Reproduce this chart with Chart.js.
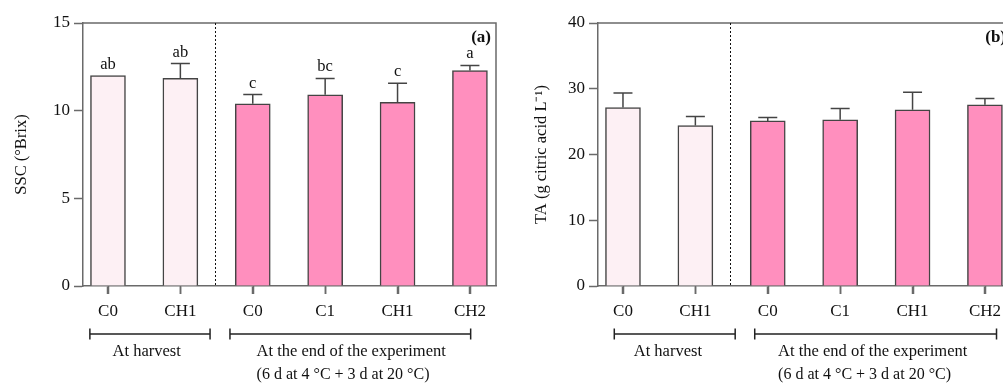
<!DOCTYPE html>
<html>
<head>
<meta charset="utf-8">
<script src="https://cdn.jsdelivr.net/npm/chart.js@4/dist/chart.umd.min.js"></script>
<style>
  html, body { margin: 0; padding: 0; background: #fff; overflow: hidden; width: 1003px; height: 383px; }
  .panel { position: absolute; top: 0; width: 500px; height: 383px; }
</style>
</head>
<body>
<div class="panel" style="left:0px"><canvas id="sscChart" width="500" height="383"></canvas></div>
<div class="panel" style="left:515px"><canvas id="taChart" width="500" height="383"></canvas></div>
<script>
// treatments, left two at harvest, others at the end of the experiment
const categories = ["C0", "CH1", "C0", "C1", "CH1", "CH2"];
const atHarvest = [true, true, false, false, false, false];

const sscMean = [12.0, 11.84, 10.39, 10.91, 10.47, 12.29];
const sscErr = [0, 0.85, 0.53, 0.93, 1.1, 0.29];
const sscLetters = ["ab", "ab", "c", "bc", "c", "a"];
const sscTicks = [0, 5, 10, 15];

const taMean = [27.14, 24.4, 25.11, 25.27, 26.79, 27.55];
const taErr = [2.23, 1.37, 0.5, 1.72, 2.69, 0.96];
const taTicks = [0, 10, 20, 30, 40];

const serif = "'Liberation Serif', 'Times New Roman', serif";
const axisGrey = "#6a6a6a";
const lightPink = "rgb(253, 240, 244)";
const pink = "rgb(255, 143, 190)";

// error bars, letters, frame, divider and group brackets
const decoPlugin = {
  id: "deco",
  afterDatasetsDraw(chart, args, o) {
    const { ctx, chartArea: a, scales } = chart;
    const x = scales.x, y = scales.y;
    ctx.save();

    // top and right frame
    ctx.strokeStyle = axisGrey;
    ctx.lineWidth = 1.5;
    ctx.beginPath();
    ctx.moveTo(a.left, a.top);
    ctx.lineTo(a.right, a.top);
    ctx.lineTo(a.right, a.bottom);
    ctx.stroke();

    // category tick marks under the x axis
    ctx.beginPath();
    categories.forEach((c, i) => {
      const tx = Math.round(x.getPixelForValue(i)) + 0.5;
      ctx.moveTo(tx, a.bottom);
      ctx.lineTo(tx, a.bottom + 8);
    });
    ctx.stroke();

    // dotted divider between harvest and end of experiment
    ctx.strokeStyle = "#111";
    ctx.lineWidth = 1;
    ctx.setLineDash([2, 2]);
    const dx = Math.round(x.getPixelForValue(o.divider)) + 0.5;
    ctx.beginPath();
    ctx.moveTo(dx, a.top);
    ctx.lineTo(dx, a.bottom);
    ctx.stroke();
    ctx.setLineDash([]);

    // error bars (upper only)
    ctx.strokeStyle = "#444";
    ctx.lineWidth = 1.5;
    o.mean.forEach((m, i) => {
      if (!o.err[i]) return;
      const cx = x.getPixelForValue(i);
      const y0 = y.getPixelForValue(m);
      const y1 = y.getPixelForValue(m + o.err[i]);
      ctx.beginPath();
      ctx.moveTo(cx, y0);
      ctx.lineTo(cx, y1);
      ctx.moveTo(cx - 9.5, y1);
      ctx.lineTo(cx + 9.5, y1);
      ctx.stroke();
    });

    // significance letters
    ctx.fillStyle = "#111";
    ctx.font = "16.5px " + serif;
    ctx.textAlign = "center";
    ctx.textBaseline = "alphabetic";
    (o.letters || []).forEach((t, i) => {
      const top = y.getPixelForValue(o.mean[i] + o.err[i]);
      ctx.fillText(t, x.getPixelForValue(i), top - 7);
    });

    // panel tag
    ctx.font = "bold 17px " + serif;
    ctx.textAlign = "right";
    ctx.textBaseline = "middle";
    ctx.fillText(o.tag, a.right - 5, a.top + 15);

    // group brackets below the axis
    ctx.strokeStyle = "#222";
    ctx.lineWidth = 1.5;
    ctx.font = "16.5px " + serif;
    o.groups.forEach(g => {
      const x0 = x.getPixelForValue(g.from), x1 = x.getPixelForValue(g.to);
      const by = 334;
      ctx.beginPath();
      ctx.moveTo(x0, by); ctx.lineTo(x1, by);
      ctx.moveTo(x0, by - 5.5); ctx.lineTo(x0, by + 5.5);
      ctx.moveTo(x1, by - 5.5); ctx.lineTo(x1, by + 5.5);
      ctx.stroke();
      const tx = x.getPixelForValue(g.textAt);
      ctx.textAlign = "center";
      ctx.textBaseline = "middle";
      ctx.fillText(g.text, tx, 352);
      if (g.sub) {
        const w = ctx.measureText(g.text).width;
        ctx.textAlign = "left";
        ctx.font = "16px " + serif;
        ctx.fillText(g.sub, tx - w / 2, 375);
        ctx.font = "16.5px " + serif;
      }
    });
    ctx.restore();
  }
};

function makeChart(id, mean, ticks, title, titlePad, deco) {
  const ctx = document.getElementById(id).getContext("2d");
  return new Chart(ctx, {
    type: "bar",
    data: {
      datasets: [{
        data: mean.map((v, i) => ({ x: i, y: v })),
        backgroundColor: atHarvest.map(h => (h ? lightPink : pink)),
        borderColor: "#444",
        borderWidth: 1.5,
        barThickness: 35,
      }],
    },
    options: {
      responsive: false,
      animation: false,
      layout: { padding: { top: 23, right: 4, left: 0, bottom: 0 } },
      plugins: { legend: { display: false }, tooltip: { enabled: false }, deco: deco },
      scales: {
        x: {
          type: "linear",
          min: -0.345,
          max: 5.36,
          offset: false,
          afterBuildTicks: s => { s.ticks = categories.map((c, i) => ({ value: i })); },
          afterFit: s => { s.height = 97; },
          ticks: {
            callback: v => categories[v],
            color: "#111",
            font: { family: serif, size: 17 },
            padding: 7,
            maxRotation: 0,
            autoSkip: false,
          },
          grid: { offset: false, drawOnChartArea: false, tickLength: 8, tickColor: axisGrey, tickWidth: 1.5 },
          border: { color: axisGrey, width: 1.5 },
        },
        y: {
          min: 0,
          max: ticks[ticks.length - 1],
          afterBuildTicks: s => { s.ticks = ticks.map(v => ({ value: v })); },
          afterFit: s => { s.width = 83; },
          ticks: { color: "#111", font: { family: serif, size: 17 }, padding: 4 },
          grid: { drawOnChartArea: false, tickLength: 9, tickColor: axisGrey, tickWidth: 1.5 },
          border: { color: axisGrey, width: 1.5 },
          title: { display: true, text: title, color: "#111", font: { family: serif, size: 16.5 }, padding: { top: titlePad, bottom: 0 } },
        },
      },
    },
    plugins: [decoPlugin],
  });
}

makeChart("sscChart", sscMean, sscTicks, "SSC (°Brix)", 12, {
  mean: sscMean, err: sscErr, letters: sscLetters, tag: "(a)", divider: 1.485,
  groups: [
    { from: -0.25, to: 1.41, textAt: 0.535, text: "At harvest" },
    { from: 1.685, to: 5.01, textAt: 3.36, text: "At the end of the experiment", sub: "(6 d at 4 °C + 3 d at 20 °C)" },
  ],
});

makeChart("taChart", taMean, taTicks, "TA (g citric acid L⁻¹)", 17, {
  mean: taMean, err: taErr, letters: [], tag: "(b)", divider: 1.485,
  groups: [
    { from: -0.12, to: 1.55, textAt: 0.62, text: "At harvest" },
    { from: 1.82, to: 5.16, textAt: 3.45, text: "At the end of the experiment", sub: "(6 d at 4 °C + 3 d at 20 °C)" },
  ],
});
</script>
</body>
</html>
